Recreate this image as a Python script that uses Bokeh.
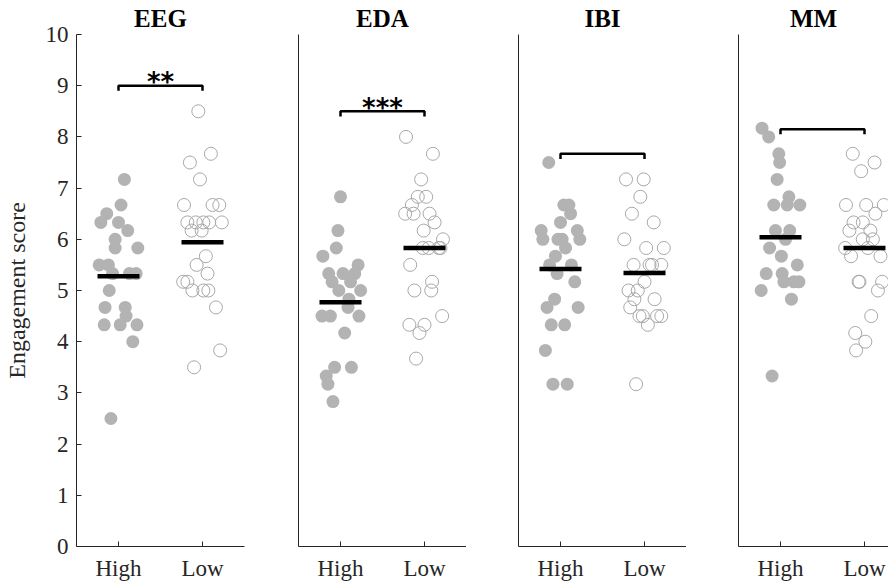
from bokeh.plotting import figure
from bokeh.layouts import row
from bokeh.models import FixedTicker, Range1d, ColumnDataSource
from bokeh.core.properties import value
from bokeh.embed import file_html
from bokeh.resources import INLINE

panels = ["EEG", "EDA", "IBI", "MM"]
groups = ["High", "Low"]
y_ticks = [0, 1, 2, 3, 4, 5, 6, 7, 8, 9, 10]

eeg_high = [7.17, 6.67, 6.5, 6.33, 6.33, 6.17, 6.0, 5.83, 5.83, 5.5, 5.5, 5.33, 5.33, 5.33,
            5.0, 4.67, 4.67, 4.5, 4.33, 4.33, 4.33, 4.0, 2.5]
eeg_high_jit = [0.07, 0.03, -0.14, -0.21, 0.0, 0.11, -0.04, -0.04, 0.23, -0.23, -0.12, -0.07,
                0.13, 0.21, -0.11, -0.16, 0.08, 0.09, -0.17, 0.02, 0.22, 0.17, -0.09]
eeg_low = [8.5, 7.5, 7.67, 7.17, 6.67, 6.67, 6.67, 6.33, 6.33, 6.33, 6.33, 6.33, 6.17, 6.17,
           5.67, 5.5, 5.33, 5.17, 5.17, 5.0, 5.0, 5.0, 4.67, 3.83, 3.5]
eeg_low_jit = [-0.05, -0.15, 0.10, -0.03, -0.22, 0.12, 0.20, -0.18, -0.08, 0.01, 0.08, 0.23,
               -0.13, -0.01, 0.04, -0.07, 0.06, -0.23, -0.18, -0.12, 0.01, 0.07, 0.16, 0.21, -0.10]

eda_high = [6.83, 6.17, 5.83, 5.67, 5.5, 5.33, 5.33, 5.33, 5.17, 5.17, 5.0, 5.0, 4.83, 4.67,
            4.5, 4.5, 4.5, 4.17, 3.5, 3.5, 3.33, 3.17, 2.83]
eda_high_jit = [0.0, -0.03, -0.05, -0.21, 0.21, -0.14, 0.03, 0.17, -0.10, 0.12, -0.02, 0.24,
                0.10, 0.09, -0.22, -0.12, 0.22, 0.05, -0.07, 0.13, -0.17, -0.15, -0.09]
eda_low = [8.0, 7.67, 7.17, 6.83, 6.83, 6.67, 6.5, 6.5, 6.5, 6.33, 6.17, 6.0, 5.83, 5.83,
           5.83, 5.83, 5.5, 5.17, 5.0, 5.0, 4.5, 4.33, 4.33, 4.17, 3.67]
eda_low_jit = [-0.22, 0.10, -0.04, -0.08, 0.02, -0.15, -0.23, -0.13, 0.06, 0.12, -0.01, 0.22,
               -0.02, 0.05, 0.17, 0.19, -0.17, 0.09, -0.12, 0.08, 0.21, -0.18, 0.0, -0.06, -0.10]

ibi_high = [7.5, 6.67, 6.67, 6.5, 6.33, 6.17, 6.17, 6.0, 6.0, 6.0, 6.0, 5.83, 5.67, 5.5, 5.5,
            5.33, 5.17, 4.83, 4.67, 4.67, 4.33, 4.33, 3.83, 3.17, 3.17]
ibi_high_jit = [-0.14, 0.04, 0.10, 0.12, 0.0, -0.23, 0.20, -0.21, -0.03, 0.02, 0.23, 0.06,
                -0.06, -0.13, 0.13, -0.04, 0.17, -0.07, -0.16, 0.21, -0.11, 0.05, -0.18, -0.09, 0.08]
ibi_low = [7.17, 7.17, 6.83, 6.5, 6.33, 6.0, 5.83, 5.83, 5.5, 5.5, 5.5, 5.5, 5.17, 5.0, 5.0,
           4.83, 4.83, 4.67, 4.5, 4.5, 4.5, 4.5, 4.33, 3.17]
ibi_low_jit = [-0.22, -0.01, -0.05, -0.15, 0.11, -0.24, 0.02, 0.23, -0.13, 0.06, 0.09, 0.20,
               0.0, -0.19, -0.08, -0.12, 0.12, -0.17, -0.06, -0.02, 0.15, 0.20, 0.04, -0.10]

mm_high = [8.17, 8.0, 7.67, 7.5, 7.17, 6.83, 6.67, 6.67, 6.67, 6.17, 6.17, 6.0, 5.83, 5.67,
           5.5, 5.33, 5.33, 5.17, 5.17, 5.17, 5.0, 4.83, 3.33]
mm_high_jit = [-0.22, -0.14, -0.02, -0.01, -0.04, 0.10, -0.08, 0.08, 0.23, -0.06, 0.11, 0.06,
               -0.13, 0.01, 0.20, -0.17, 0.02, 0.04, 0.16, 0.22, -0.23, 0.13, -0.10]
mm_low = [7.67, 7.5, 7.33, 6.67, 6.67, 6.67, 6.5, 6.33, 6.33, 6.17, 6.17, 6.0, 6.0, 5.83, 5.83,
          5.67, 5.67, 5.17, 5.17, 5.17, 5.0, 4.5, 4.17, 4.0, 3.83]
mm_low_jit = [-0.14, 0.12, -0.04, -0.22, 0.02, 0.23, 0.13, -0.13, -0.02, -0.18, 0.07, -0.02,
              0.10, -0.23, 0.04, -0.16, 0.19, -0.07, -0.06, 0.21, 0.16, 0.08, -0.11, 0.01, -0.10]

eeg_means = [5.28, 5.94]
eda_means = [4.77, 5.83]
ibi_means = [5.42, 5.34]
mm_means = [6.04, 5.83]

bracket_y = [9.0, 8.5, 7.67, 8.15]
bracket_stars = ["**", "***", "", ""]

data = {
    "EEG": (eeg_high, eeg_high_jit, eeg_low, eeg_low_jit, eeg_means),
    "EDA": (eda_high, eda_high_jit, eda_low, eda_low_jit, eda_means),
    "IBI": (ibi_high, ibi_high_jit, ibi_low, ibi_low_jit, ibi_means),
    "MM": (mm_high, mm_high_jit, mm_low, mm_low_jit, mm_means),
}

SERIF = "Liberation Serif"
AX = "#262626"
figs = []
for i, name in enumerate(panels):
    hi, hij, lo, loj, mns = data[name]
    last = i == len(panels) - 1
    fw = 150 if last else 168
    xr_end = 0.5 + fw / 84.0
    p = figure(frame_width=fw, frame_height=512, x_range=Range1d(0.5, xr_end),
               y_range=Range1d(0, 10), output_backend="svg", toolbar_location=None,
               min_border_left=74 if i == 0 else 52,
               min_border_right=2 if i == 0 else 0,
               min_border_top=20, min_border_bottom=30)
    p.outline_line_color = None
    p.grid.visible = False
    p.background_fill_color = "white"
    p.border_fill_color = "white"

    p.title.text = name
    p.title.align = "center"
    p.title.text_font = SERIF
    p.title.text_font_style = "bold"
    p.title.text_font_size = "25px"
    p.title.text_color = "black"
    p.title.standoff = 5

    xa = p.xaxis[0]
    xa.ticker = FixedTicker(ticks=[1, 2])
    xa.major_label_overrides = {1: groups[0], 2: groups[1]}
    xa.major_tick_in = 5
    xa.major_tick_out = 0
    xa.minor_tick_line_color = None
    xa.major_label_text_font = SERIF
    xa.major_label_text_font_size = "23px"
    xa.major_label_text_color = AX
    xa.major_label_standoff = 9
    xa.axis_line_color = AX
    xa.major_tick_line_color = AX

    ya = p.yaxis[0]
    ya.axis_line_color = AX
    ya.minor_tick_line_color = None
    if i == 0:
        ya.ticker = FixedTicker(ticks=y_ticks)
        ya.major_tick_in = 5
        ya.major_tick_out = 0
        ya.major_tick_line_color = AX
        ya.major_label_text_font = SERIF
        ya.major_label_text_font_size = "23px"
        ya.major_label_text_color = AX
        ya.major_label_standoff = 8
        ya.axis_label = "Engagement score"
        ya.axis_label_text_font = SERIF
        ya.axis_label_text_font_style = "normal"
        ya.axis_label_text_font_size = "24px"
        ya.axis_label_text_color = AX
        ya.axis_label_standoff = 13
    else:
        ya.ticker = FixedTicker(ticks=[])
        ya.major_tick_in = 0
        ya.major_tick_out = 0
        ya.major_label_text_font_size = "0px"

    src_hi = ColumnDataSource(dict(x=[1 + j for j in hij], y=hi))
    src_lo = ColumnDataSource(dict(x=[2 + j for j in loj], y=lo))
    p.scatter("x", "y", source=src_hi, marker="circle", size=13,
              fill_color="#b3b3b3", line_color=None)
    p.scatter("x", "y", source=src_lo, marker="circle", size=13,
              fill_color=None, line_color="#a8a8a8", line_width=1)

    p.segment(x0=[1 - 0.25, 2 - 0.25], x1=[1 + 0.25, 2 + 0.25], y0=mns, y1=mns,
              line_color="black", line_width=4.5)

    by = bracket_y[i]
    p.line(x=[1, 1, 2, 2], y=[by - 0.1, by, by, by - 0.1], line_color="black",
           line_width=2.5)
    if bracket_stars[i]:
        p.text(x=[1.5], y=[by - 0.22], text=[bracket_stars[i]], text_align="center",
               text_baseline="bottom", text_font=value("DejaVu Sans"),
               text_font_style="bold", text_font_size="26px", text_color="black")
    figs.append(p)

layout = row(*figs, spacing=0)
open("out.html", "w").write(file_html(layout, INLINE))
